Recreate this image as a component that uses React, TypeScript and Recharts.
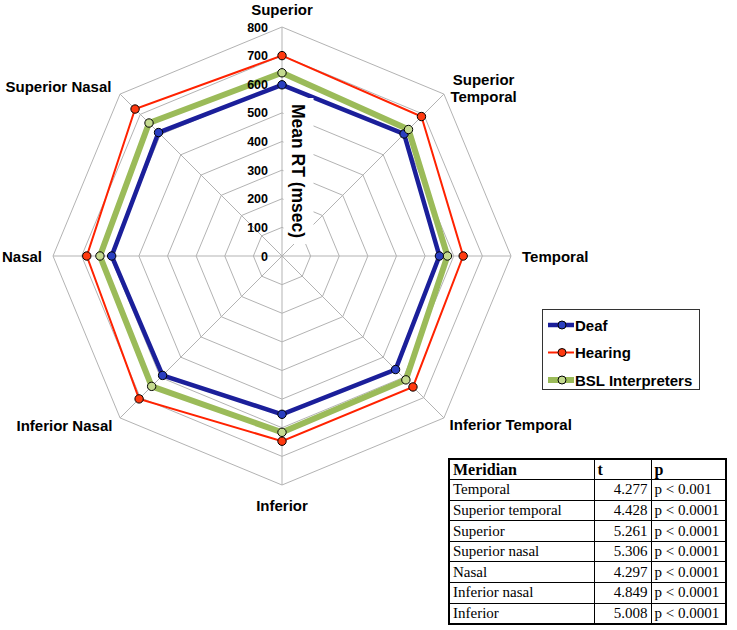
import { RadarChart, Radar, PolarGrid, PolarAngleAxis, PolarRadiusAxis } from "recharts";

const meridians = [
  "Superior",
  "Superior Temporal",
  "Temporal",
  "Inferior Temporal",
  "Inferior",
  "Inferior Nasal",
  "Nasal",
  "Superior Nasal",
];
const deaf = [598, 603, 550, 561, 553, 590, 595, 610];
const hearing = [700, 689, 633, 647, 647, 706, 682, 726];
const bsl = [640, 625, 578, 612, 616, 644, 636, 657];
const radiusTicks = [0, 100, 200, 300, 400, 500, 600, 700, 800];

const tableMeridians = ["Temporal", "Superior temporal", "Superior", "Superior nasal", "Nasal", "Inferior nasal", "Inferior"];
const tValues = ["4.277", "4.428", "5.261", "5.306", "4.297", "4.849", "5.008"];
const pValues = ["p < 0.001", "p < 0.0001", "p < 0.0001", "p < 0.0001", "p < 0.0001", "p < 0.0001", "p < 0.0001"];

const data = meridians.map((m, i) => ({ meridian: m, deaf: deaf[i], hearing: hearing[i], bsl: bsl[i] }));

const series = [
  { key: "deaf", name: "Deaf", stroke: "#1b1f9a", width: 4.5, dot: "#2a3fc0" },
  { key: "hearing", name: "Hearing", stroke: "#ff2200", width: 2, dot: "#ff3a10" },
  { key: "bsl", name: "BSL Interpreters", stroke: "#9bbb59", width: 6, dot: "#c4da8f" },
];

const SANS = "'Liberation Sans', Arial, Helvetica, sans-serif";
const SERIF = "'Liberation Serif', 'Times New Roman', serif";
const CX = 282;
const CY = 256;
const R = 229;

// label nudges per angle label (dx, dy, anchor)
const labelPos = [
  { dx: 0, dy: -4, anchor: "middle" },
  { dx: 34, dy: -3, anchor: "middle" },
  { dx: 3, dy: 6, anchor: "start" },
  { dx: 0, dy: 6, anchor: "start" },
  { dx: 0, dy: 18, anchor: "middle" },
  { dx: -2, dy: 7, anchor: "end" },
  { dx: -3, dy: 6, anchor: "end" },
  { dx: -3, dy: 4, anchor: "end" },
];

const AngleTick = (props: any) => {
  const { x, y, payload, index } = props;
  const p = labelPos[index] || { dx: 0, dy: 0, anchor: "middle" };
  const words = String(payload.value);
  const lines = index === 1 ? words.split(" ") : [words];
  return (
    <text
      x={x + p.dx}
      y={y + p.dy}
      textAnchor={p.anchor}
      fontFamily={SANS}
      fontWeight="bold"
      fontSize={15}
      fill="#000"
    >
      {lines.map((l, i) => (
        <tspan key={i} x={x + p.dx} dy={i === 0 ? 0 : 17}>
          {l}
        </tspan>
      ))}
    </text>
  );
};

const RadiusTick = (props: any) => {
  const { x, y, payload } = props;
  return (
    <text x={x - 14} y={y + 4.5} textAnchor="end" fontFamily={SANS} fontWeight="bold" fontSize={12.5} fill="#000">
      {payload.value}
    </text>
  );
};

const makeDot = (fill: string) => (props: any) => {
  const { cx, cy, index } = props;
  return <circle key={index} cx={cx} cy={cy} r={4.2} fill={fill} stroke="#000" strokeWidth={1} />;
};

export default function App() {
  return (
    <div style={{ position: "absolute", left: 0, top: 0, width: 737, height: 630, background: "#fff" }}>
      <RadarChart
        width={737}
        height={630}
        data={data}
        cx={CX}
        cy={CY}
        outerRadius={R}
        margin={{ top: 0, right: 0, bottom: 0, left: 0 }}
      >
        <PolarGrid gridType="polygon" stroke="#b3b3b3" strokeWidth={1} />
        <PolarAngleAxis dataKey="meridian" tick={AngleTick} tickLine={false} axisLine={false} />
        <PolarRadiusAxis
          angle={90}
          domain={[0, 800]}
          ticks={radiusTicks as any}
          tickCount={9}
          axisLine={false}
          tick={RadiusTick}
        />
        {series.map((s) => (
          <Radar
            key={s.key}
            name={s.name}
            dataKey={s.key}
            stroke={s.stroke}
            strokeWidth={s.width}
            fill="none"
            fillOpacity={0}
            dot={makeDot(s.dot)}
            isAnimationActive={false}
          />
        ))}
      </RadarChart>

      <svg style={{ position: "absolute", left: 0, top: 0 }} width={737} height={630} pointerEvents="none">
        <rect x={283.5} y={98} width={30} height={146} fill="#fff" />
        <text
          transform="translate(292,171) rotate(90)"
          textAnchor="middle"
          fontFamily={SANS}
          fontWeight="bold"
          fontSize={17.5}
          fill="#000"
        >
          Mean RT (msec)
        </text>
      </svg>

      <div
        style={{
          position: "absolute",
          left: 542,
          top: 309,
          width: 158,
          height: 81,
          border: "1px solid #333",
          background: "#fff",
          boxSizing: "border-box",
        }}
      >
        <svg width={158} height={81}>
          {series.map((s, i) => {
            const y = 15 + i * 27.5;
            return (
              <g key={s.key}>
                <line x1={5} x2={31} y1={y} y2={y} stroke={s.stroke} strokeWidth={s.width} />
                <circle cx={19} cy={y} r={4} fill={s.dot} stroke="#000" strokeWidth={1} />
                <text x={32} y={y + 5.5} fontFamily={SANS} fontWeight="bold" fontSize={15} fill="#000">
                  {s.name}
                </text>
              </g>
            );
          })}
        </svg>
      </div>

      <table
        style={{
          position: "absolute",
          left: 448,
          top: 458,
          width: 277,
          height: 165,
          borderCollapse: "collapse",
          border: "2.5px solid #000",
          fontFamily: SERIF,
          fontSize: 15,
          color: "#000",
          tableLayout: "fixed",
        }}
      >
        <colgroup>
          <col style={{ width: 145 }} />
          <col style={{ width: 57 }} />
          <col style={{ width: 75 }} />
        </colgroup>
        <tbody>
          <tr style={{ height: 20.6 }}>
            {["Meridian", "t", "p"].map((h) => (
              <td key={h} style={{ border: "1.5px solid #000", padding: "0 3px", fontWeight: "bold", lineHeight: "17px", fontSize: 16 }}>
                {h}
              </td>
            ))}
          </tr>
          {tableMeridians.map((m, i) => (
            <tr key={m} style={{ height: 20.6 }}>
              <td style={{ border: "1.5px solid #000", padding: "0 3px", lineHeight: "17px" }}>{m}</td>
              <td style={{ border: "1.5px solid #000", padding: "0 3px", textAlign: "right", lineHeight: "17px" }}>
                {tValues[i]}
              </td>
              <td style={{ border: "1.5px solid #000", padding: "0 3px", lineHeight: "17px", whiteSpace: "nowrap" }}>{pValues[i]}</td>
            </tr>
          ))}
        </tbody>
      </table>
    </div>
  );
}
